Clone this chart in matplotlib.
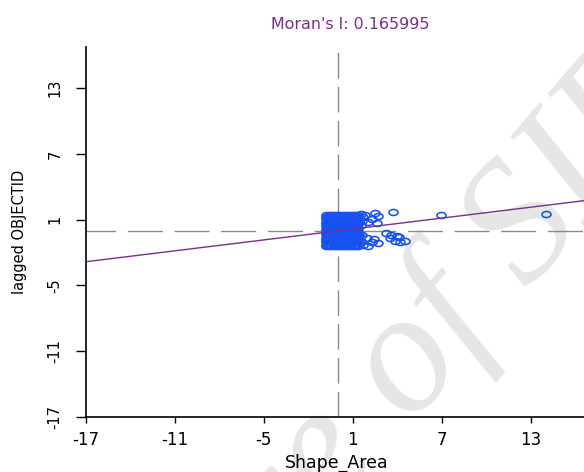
import matplotlib
matplotlib.use("Agg")
import matplotlib.pyplot as plt
import numpy as np
from matplotlib.path import Path
from matplotlib.transforms import Affine2D

# Moran scatterplot values
moran_i = 0.165995
fit_intercept = -0.02

shape_area = [
    # dense block of small areas
    -0.80, -0.62, -0.44, -0.26, -0.08, 0.10, 0.28, 0.46, 0.64, 0.82, 1.00, 1.18, 1.36,
    -0.80, -0.71, -0.53, -0.35, -0.17, 0.01, 0.19, 0.37, 0.55, 0.73, 0.91, 1.09, 1.27,
    -0.80, -0.62, -0.44, -0.26, -0.08, 0.10, 0.28, 0.46, 0.64, 0.82, 1.00, 1.18, 1.36,
    -0.80, -0.71, -0.53, -0.35, -0.17, 0.01, 0.19, 0.37, 0.55, 0.73, 0.91, 1.09, 1.27,
    -0.80, -0.62, -0.44, -0.26, -0.08, 0.10, 0.28, 0.46, 0.64, 0.82, 1.00, 1.18, 1.36,
    -0.80, -0.71, -0.53, -0.35, -0.17, 0.01, 0.19, 0.37, 0.55, 0.73, 0.91, 1.09, 1.27,
    -0.80, -0.62, -0.44, -0.26, -0.08, 0.10, 0.28, 0.46, 0.64, 0.82, 1.00, 1.18, 1.36,
    -0.80, -0.71, -0.53, -0.35, -0.17, 0.01, 0.19, 0.37, 0.55, 0.73, 0.91, 1.09, 1.27,
    -0.80, -0.62, -0.44, -0.26, -0.08, 0.10, 0.28, 0.46, 0.64, 0.82, 1.00, 1.18, 1.36,
    -0.80, -0.71, -0.53, -0.35, -0.17, 0.01, 0.19, 0.37, 0.55, 0.73, 0.91, 1.09, 1.27,
    -0.80, -0.62, -0.44, -0.26, -0.08, 0.10, 0.28, 0.46, 0.64, 0.82, 1.00, 1.18, 1.36,
    -0.80, -0.71, -0.53, -0.35, -0.17, 0.01, 0.19, 0.37, 0.55, 0.73, 0.91, 1.09, 1.27,
    -0.80, -0.62, -0.44, -0.26, -0.08, 0.10, 0.28, 0.46, 0.64, 0.82, 1.00, 1.18, 1.36,
    -0.80, -0.71, -0.53, -0.35, -0.17, 0.01, 0.19, 0.37, 0.55, 0.73, 0.91, 1.09, 1.27,
    -0.80, -0.62, -0.44, -0.26, -0.08, 0.10, 0.28, 0.46, 0.64, 0.82, 1.00, 1.18, 1.36,
    # scattered right of the block
    1.55, 1.70, 1.83, 2.05, 2.28, 2.50, 2.72, 2.61, 1.62, 1.55,
    1.45, 1.60, 1.94, 2.28, 2.72, 1.71, 2.05, 2.45, 1.55,
    3.27, 3.60, 3.95, 3.50, 3.85, 4.20, 4.52, 4.15,
    3.74, 6.93, 14.04,
]
lagged_objectid = [
    1.45, 1.45, 1.45, 1.45, 1.45, 1.45, 1.45, 1.45, 1.45, 1.45, 1.45, 1.45, 1.45,
    1.24, 1.24, 1.24, 1.24, 1.24, 1.24, 1.24, 1.24, 1.24, 1.24, 1.24, 1.24, 1.24,
    1.03, 1.03, 1.03, 1.03, 1.03, 1.03, 1.03, 1.03, 1.03, 1.03, 1.03, 1.03, 1.03,
    0.82, 0.82, 0.82, 0.82, 0.82, 0.82, 0.82, 0.82, 0.82, 0.82, 0.82, 0.82, 0.82,
    0.61, 0.61, 0.61, 0.61, 0.61, 0.61, 0.61, 0.61, 0.61, 0.61, 0.61, 0.61, 0.61,
    0.40, 0.40, 0.40, 0.40, 0.40, 0.40, 0.40, 0.40, 0.40, 0.40, 0.40, 0.40, 0.40,
    0.19, 0.19, 0.19, 0.19, 0.19, 0.19, 0.19, 0.19, 0.19, 0.19, 0.19, 0.19, 0.19,
    -0.02, -0.02, -0.02, -0.02, -0.02, -0.02, -0.02, -0.02, -0.02, -0.02, -0.02, -0.02, -0.02,
    -0.23, -0.23, -0.23, -0.23, -0.23, -0.23, -0.23, -0.23, -0.23, -0.23, -0.23, -0.23, -0.23,
    -0.44, -0.44, -0.44, -0.44, -0.44, -0.44, -0.44, -0.44, -0.44, -0.44, -0.44, -0.44, -0.44,
    -0.65, -0.65, -0.65, -0.65, -0.65, -0.65, -0.65, -0.65, -0.65, -0.65, -0.65, -0.65, -0.65,
    -0.86, -0.86, -0.86, -0.86, -0.86, -0.86, -0.86, -0.86, -0.86, -0.86, -0.86, -0.86, -0.86,
    -1.07, -1.07, -1.07, -1.07, -1.07, -1.07, -1.07, -1.07, -1.07, -1.07, -1.07, -1.07, -1.07,
    -1.28, -1.28, -1.28, -1.28, -1.28, -1.28, -1.28, -1.28, -1.28, -1.28, -1.28, -1.28, -1.28,
    -1.43, -1.43, -1.43, -1.43, -1.43, -1.43, -1.43, -1.43, -1.43, -1.43, -1.43, -1.43, -1.43,
    1.52, 1.20, 1.40, 0.82, 1.04, 1.58, 1.34, 0.67, 0.90, 0.50,
    -0.30, -0.40, -0.70, -1.00, -1.16, -1.31, -1.45, -0.80, -0.95,
    -0.24, -0.38, -0.50, -0.72, -0.92, -1.00, -0.95, -0.62,
    1.73, 1.43, 1.49,
]

ticks = [-17, -11, -5, 1, 7, 13]
x_range = (-17, 16.8)
y_range = (-17, 16.8)

plt.rcParams["font.family"] = "DejaVu Sans"
plt.rcParams["axes.unicode_minus"] = False

W, H = 584, 472
fig = plt.figure(figsize=(W / 100, H / 100), dpi=100)
ax = fig.add_axes([86 / W, 1 - 416.7 / H, 501 / W, 370 / H])
ax.set_facecolor("none")

# faint watermark behind the plot
fig.text(340 / W, 1 - 453 / H, "Archive of SID", rotation=49, fontsize=125,
         family="Liberation Serif", style="italic", color="#e6e6e6",
         ha="center", va="center", zorder=-1)

# the picture is stretched sideways, so the circles come out as ellipses
ellipse = Path.unit_circle().transformed(Affine2D().scale(1.5, 1.0))
ax.plot(shape_area, lagged_objectid, linestyle="none", marker=ellipse, ms=6.5,
        mfc="none", mec="#1652f2", mew=1.15, zorder=3)

xs = np.array(x_range)
ax.plot(xs, moran_i * xs + fit_intercept, color="#7b2d8b", lw=1.0, zorder=4)

ax.axvline(0, color="#8a8a8a", lw=1.0, linestyle=(0, (18.4, 6)), zorder=2)
ax.axhline(0, color="#8a8a8a", lw=1.0, linestyle=(3.8, (25.2, 8.4)), zorder=2)

ax.set_xlim(*x_range)
ax.set_ylim(*y_range)
ax.set_xticks(ticks)
ax.set_yticks(ticks)
ax.set_xticklabels([str(t) for t in ticks])
ax.set_yticklabels([str(t) for t in ticks], rotation=90, va="center")

for side in ("top", "right"):
    ax.spines[side].set_visible(False)
for side in ("left", "bottom"):
    ax.spines[side].set_linewidth(1.2)

ax.tick_params(axis="x", length=4, width=1, pad=6.5, labelsize=12)
ax.tick_params(axis="y", length=7, width=1, pad=10, labelsize=10.5)

ax.set_xlabel("Shape_Area", fontsize=12.5, labelpad=3)
ax.set_ylabel("lagged OBJECTID", fontsize=10.5, labelpad=15)
ax.set_title("Moran's I: 0.165995", color="#7b2d8b", fontsize=11.4, pad=12.7,
             x=(350 - 86) / 501)

fig.savefig("out.png", dpi=100)
